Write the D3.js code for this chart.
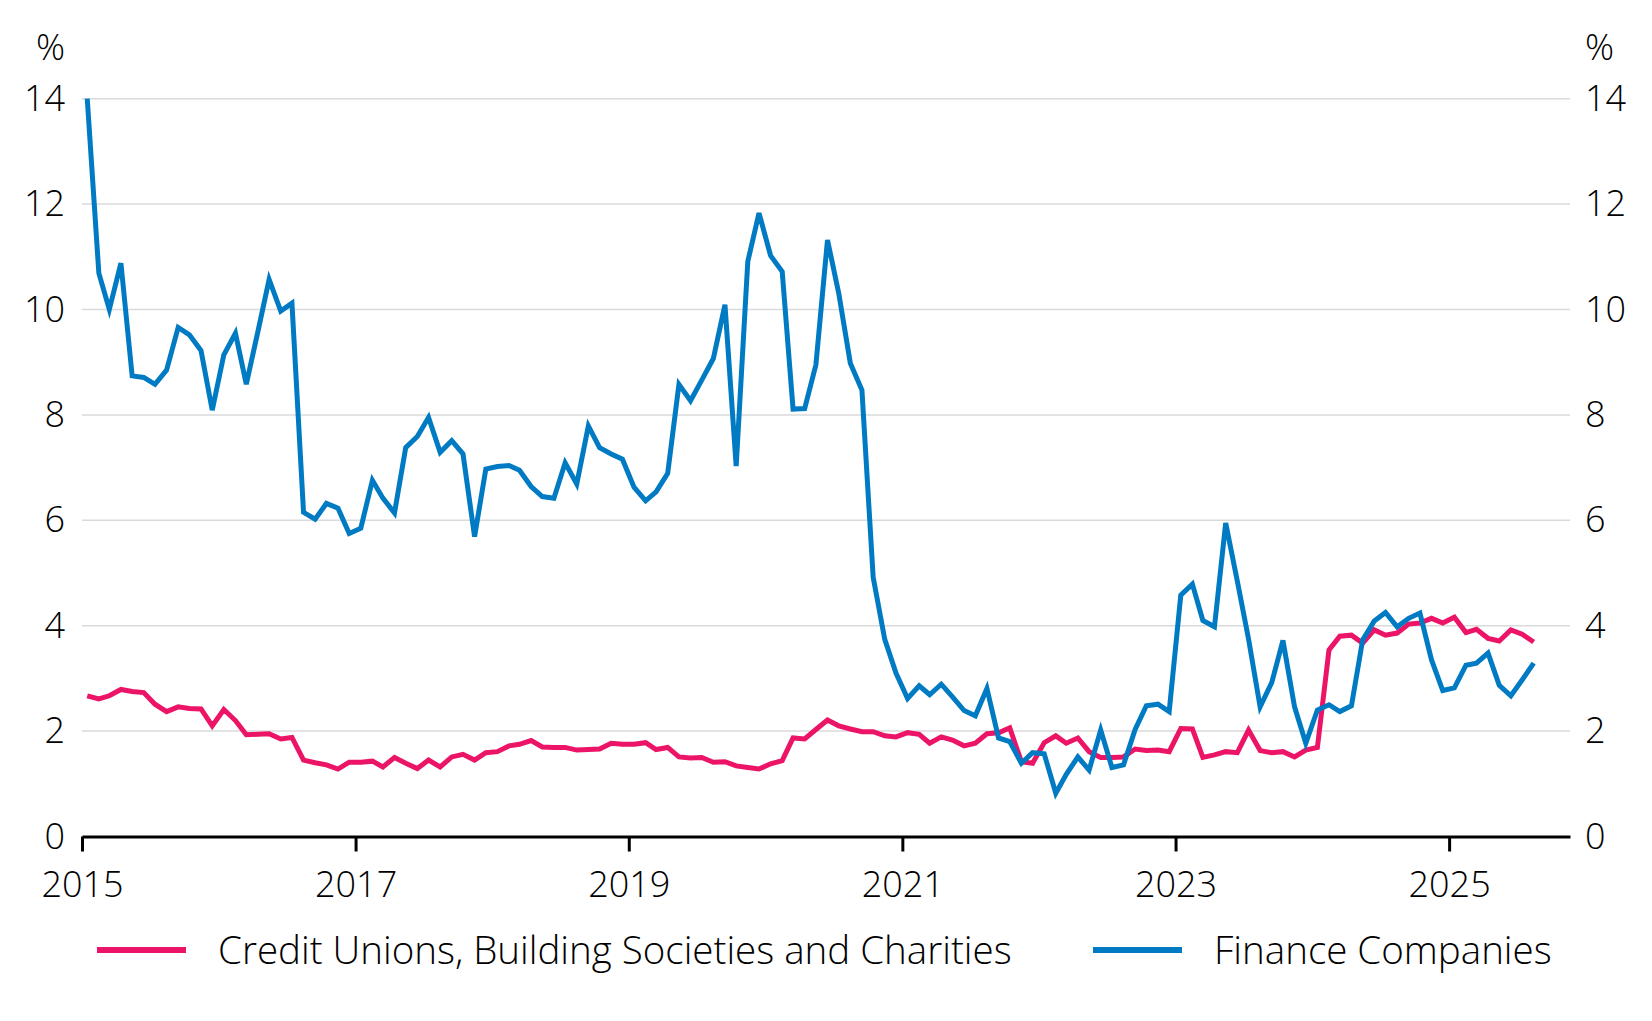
<!DOCTYPE html>
<html>
<head>
<meta charset="utf-8">
<script src="https://cdn.jsdelivr.net/npm/d3@7"></script>
<style>
    body { margin: 0; background: #fff; }
    svg { display: block; }
    text { font-family: "Open Sans", "Segoe UI", sans-serif; font-weight: 300; fill: #000; }
</style>
</head>
<body>
<div id="chart"></div>
<script>
// Monthly series, Jan 2015 to Aug 2025 (per cent)
var startYear = 2015, startMonth = 0;

var creditUnions = [
    2.67, 2.61, 2.67, 2.79, 2.75, 2.73, 2.51, 2.37, 2.46, 2.43, 2.42, 2.10,
    2.41, 2.20, 1.93, 1.94, 1.95, 1.85, 1.88, 1.45, 1.40, 1.36, 1.28, 1.41,
    1.41, 1.43, 1.32, 1.50, 1.39, 1.29, 1.45, 1.32, 1.51, 1.56, 1.45, 1.59,
    1.61, 1.72, 1.75, 1.82, 1.70, 1.69, 1.69, 1.64, 1.65, 1.66, 1.77, 1.75,
    1.75, 1.78, 1.65, 1.69, 1.51, 1.49, 1.50, 1.41, 1.42, 1.34, 1.31, 1.28,
    1.38, 1.44, 1.87, 1.85, 2.03, 2.21, 2.10, 2.04, 1.99, 1.99, 1.91, 1.89,
    1.97, 1.94, 1.77, 1.89, 1.83, 1.72, 1.77, 1.95, 1.97, 2.06, 1.42, 1.39,
    1.78, 1.91, 1.77, 1.87, 1.61, 1.50, 1.50, 1.51, 1.66, 1.63, 1.64, 1.61,
    2.05, 2.04, 1.50, 1.55, 1.61, 1.59, 2.02, 1.63, 1.59, 1.61, 1.51, 1.64,
    1.69, 3.54, 3.80, 3.82, 3.67, 3.92, 3.82, 3.86, 4.03, 4.05, 4.14, 4.05,
    4.16, 3.87, 3.93, 3.76, 3.71, 3.92, 3.84, 3.69
];

var financeCompanies = [
    14.0, 10.69, 10.0, 10.88, 8.74, 8.71, 8.58, 8.85, 9.66, 9.52, 9.22, 8.09,
    9.14, 9.55, 8.58, 9.58, 10.57, 9.97, 10.12, 6.15, 6.02, 6.32, 6.23, 5.75,
    5.85, 6.76, 6.42, 6.14, 7.38, 7.59, 7.95, 7.29, 7.51, 7.26, 5.69, 6.97,
    7.02, 7.04, 6.95, 6.64, 6.45, 6.42, 7.09, 6.69, 7.79, 7.38, 7.26, 7.16,
    6.63, 6.37, 6.54, 6.89, 8.58, 8.27, 8.66, 9.07, 10.09, 7.03, 10.91, 11.83,
    11.02, 10.72, 8.11, 8.12, 8.95, 11.32, 10.31, 8.98, 8.47, 4.92, 3.74, 3.10,
    2.62, 2.86, 2.69, 2.89, 2.65, 2.39, 2.29, 2.81, 1.87, 1.80, 1.39, 1.59,
    1.57, 0.82, 1.18, 1.51, 1.26, 2.02, 1.31, 1.36, 2.03, 2.48, 2.51, 2.37,
    4.58, 4.79, 4.10, 3.98, 5.95, 4.85, 3.75, 2.46, 2.92, 3.72, 2.46, 1.77,
    2.40, 2.50, 2.37, 2.48, 3.73, 4.09, 4.25, 3.98, 4.14, 4.24, 3.35, 2.77,
    2.82, 3.25, 3.29, 3.48, 2.87, 2.67, 2.97, 3.29
];

var yTicks = [0, 2, 4, 6, 8, 10, 12, 14];
var xTickYears = [2015, 2017, 2019, 2021, 2023, 2025];
var seriesNames = ['Credit Unions, Building Societies and Charities', 'Finance Companies'];
var seriesColors = ['#ec1466', '#007bc3'];

// Viz-level sizing
var width = 1652, height = 1021;
var plot = {left: 82, right: 1570, top: 98.7, bottom: 836.5};
var tickFont = '36px', legendFont = '38.5px';

var svg = d3.select('#chart').append('svg')
    .attr('width', width)
    .attr('height', height);

// Scales
var x = d3.scaleTime()
    .domain([new Date(2015, 0, 1), new Date(2025, 10, 20)])
    .range([plot.left, plot.right]);
var y = d3.scaleLinear()
    .domain([0, 14])
    .range([plot.bottom, plot.top]);

function toRows(values) {
    return values.map(function(v, i) {
        return {date: new Date(startYear, startMonth + i, 15), value: v};
    });
}

// Gridlines
svg.append('g').selectAll('line')
    .data(yTicks.filter(function(d) { return d > 0; }))
    .enter().append('line')
    .attr('x1', plot.left)
    .attr('x2', plot.right)
    .attr('y1', function(d) { return y(d); })
    .attr('y2', function(d) { return y(d); })
    .attr('stroke', '#dadada')
    .attr('stroke-width', 1.5);

// Y axes, left and right
var yLeft = d3.axisLeft(y).tickValues(yTicks).tickSize(0).tickPadding(17);
var yRight = d3.axisRight(y).tickValues(yTicks).tickSize(0).tickPadding(15);
svg.append('g')
    .attr('transform', 'translate(' + plot.left + ',0)')
    .call(yLeft)
    .call(function(g) { g.select('.domain').remove(); });
svg.append('g')
    .attr('transform', 'translate(' + plot.right + ',0)')
    .call(yRight)
    .call(function(g) { g.select('.domain').remove(); });
svg.selectAll('.tick text').style('font-size', tickFont).style('font-family', null);

// Unit labels
svg.append('text')
    .attr('x', plot.left - 17)
    .attr('y', 47)
    .attr('dy', '0.35em')
    .attr('text-anchor', 'end')
    .style('font-size', tickFont)
    .text('%');
svg.append('text')
    .attr('x', plot.right + 15)
    .attr('y', 47)
    .attr('dy', '0.35em')
    .attr('text-anchor', 'start')
    .style('font-size', tickFont)
    .text('%');

// X axis
var xAxis = d3.axisBottom(x)
    .tickValues(xTickYears.map(function(yr) { return new Date(yr, 0, 1); }))
    .tickFormat(d3.timeFormat('%Y'))
    .tickSize(15)
    .tickSizeOuter(0);
var gx = svg.append('g')
    .attr('transform', 'translate(0,' + plot.bottom + ')')
    .call(xAxis);
gx.select('.domain').attr('stroke', '#000').attr('stroke-width', 3);
gx.selectAll('.tick line').attr('stroke', '#000').attr('stroke-width', 3);
gx.selectAll('.tick text')
    .attr('y', 60)
    .attr('dy', 0)
    .style('font-size', tickFont)
    .style('font-family', null);

// Lines
var line = d3.line()
    .x(function(d) { return x(d.date); })
    .y(function(d) { return y(d.value); });

[creditUnions, financeCompanies].forEach(function(values, i) {
    svg.append('path')
        .datum(toRows(values))
        .attr('d', line)
        .attr('fill', 'none')
        .attr('stroke', seriesColors[i])
        .attr('stroke-width', 5);
});

// Legend
var legendX = [97, 1093];
var legend = svg.append('g').selectAll('g')
    .data(seriesNames)
    .enter().append('g')
    .attr('transform', function(d, i) { return 'translate(' + legendX[i] + ',950)'; });
legend.append('line')
    .attr('x1', 0)
    .attr('x2', 89)
    .attr('stroke', function(d, i) { return seriesColors[i]; })
    .attr('stroke-width', 6);
legend.append('text')
    .attr('x', 121)
    .attr('y', 14)
    .style('font-size', legendFont)
    .text(function(d) { return d; });
</script>
</body>
</html>
